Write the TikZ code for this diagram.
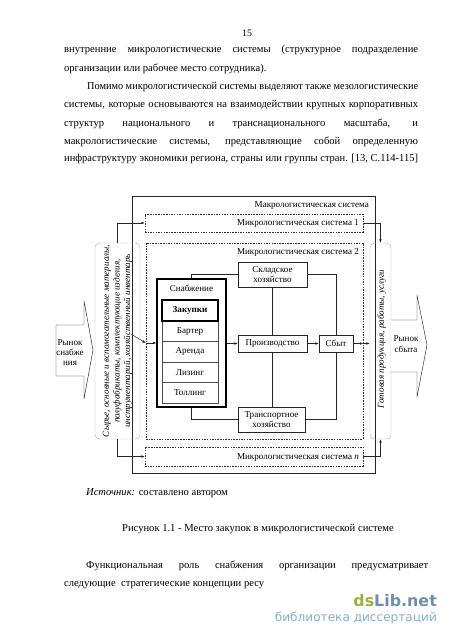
\documentclass[tikz,border=0pt]{standalone}
\usepackage{fontspec}
\usepackage{graphicx}
\setmainfont{Liberation Serif}
\newfontfamily\wmfont{DejaVu Sans}
\usetikzlibrary{arrows.meta,fit}
\definecolor{wmgreen}{HTML}{9DAF3C}
\definecolor{wmblue}{HTML}{6F8FAF}
\definecolor{wmlight}{HTML}{86AED3}
\newcommand\jline[2]{\makebox[#1][s]{\spaceskip=3pt plus 1fil\relax #2}}
\newcommand\fline[2]{\resizebox{#1}{\height}{#2}}
\begin{document}
\begin{tikzpicture}[x=1.3222pt,y=-1.3222pt,
  body/.style={font=\fontsize{14}{16}\selectfont, inner sep=0pt, anchor=base west},
  dg/.style={font=\fontsize{12}{13.8}\selectfont, inner sep=0pt},
  bt/.style={font=\fontsize{12}{12.5}\selectfont, inner sep=0pt, align=center},
  ln/.style={line width=0.6pt, draw=black!85},
  dbox/.style={draw=black!80, line width=0.6pt, dash pattern=on 2pt off 1.5pt, inner sep=0pt},
  bx/.style={draw=black!85, line width=0.7pt, inner sep=0pt},
  item/.style={draw=black!70, line width=0.6pt, inner sep=0pt},
  side/.style={draw=black!30, line width=0.6pt, rounded corners=6pt},
  arr/.style={ln, -{Latex[length=4.5pt,width=3.4pt]}},
  market/.style={draw=black!85, line width=0.6pt, fill=white}
]
\useasboundingbox (0,0) rectangle (450,637);
\fill[white] (0,0) rectangle (450,637);

% page text
\node[font=\fontsize{13}{14}\selectfont, inner sep=0pt] (pg) at (247,33) {15};
\node[body] (t1) at (64,52) {\jline{468pt}{внутренние микрологистические системы (структурное подразделение}};
\node[body] (t2) at (64,71) {организации или рабочее место сотрудника).};
\node[body] (t3) at (87,89) {\fline{437.6pt}{Помимо микрологистической системы выделяют также мезологистические}};
\node[body] (t4) at (64,107.5) {\jline{468pt}{системы, которые основываются на взаимодействии крупных корпоративных}};
\node[body] (t5) at (64,126) {\jline{468pt}{структур национального и транснационального масштаба, и}};
\node[body] (t6) at (64,144) {\jline{468pt}{макрологистические системы, представляющие собой определенную}};
\node[body] (t7) at (64,161) {\fline{468pt}{инфраструктуру экономики региона, страны или группы стран. [13, С.114-115]}};

% macro system
\node[draw=black!85, line width=0.8pt, inner sep=0pt, fit={(132,196)(375,473)}] (mac) {};
\node[dg, anchor=east] (macl) at (369,205) {Макрологистическая система};

\node[dbox, fit={(145,214)(363,232)}] (m1) {};
\node[dg, anchor=east] (m1l) at (359,223) {Микрологистическая система 1};
\node[dbox, fit={(146,243)(363,439)}] (m2) {};
\node[dg, anchor=east] (m2l) at (359,252) {Микрологистическая система 2};
\node[dbox, fit={(145,447)(363,466)}] (mn) {};
\node[dg, anchor=east] (mnl) at (359,457) {Микрологистическая система \textit{n}};

% side boxes
\node[side, inner sep=0pt, fit={(95,243)(140,439)}] (lb) {};
\node[dg, rotate=90, align=center, font=\fontsize{12}{14}\itshape] (lbt) at (117.5,341)
  {Сырье, основные и вспомогательные материалы,\\полуфабрикаты, комплектующие изделия,\\инструментарий, хозяйственный инвентарь};
\node[side, inner sep=0pt, fit={(370,243)(391,439)}] (rb) {};
\node[dg, rotate=90, font=\fontsize{12}{14}\itshape] (rbt) at (381.5,339) {Готовая продукция, работы, услуги};

% markets
\draw[market] (84,325) -- (56,325) -- (56,376) -- (84,376) -- (84,399) -- (93,350) -- (84,301) -- cycle;
\node[dg, align=center, font=\fontsize{12}{13.8}\selectfont] (rs) at (70,352.5) {Рынок\\снабже\\ния};
\draw[market] (391,320) -- (417,320) -- (417,295) -- (427,345) -- (417,397) -- (417,372) -- (391,372);
\node[dg, align=center, font=\fontsize{12}{13.8}\selectfont] (rsb) at (406,344) {Рынок\\сбыта};

% supply block
\node[draw=black, line width=1.6pt, inner sep=0pt, fit={(157,279)(226,407)}] (sn) {};
\node[dg] (snl) at (191.5,288) {Снабжение};
\node[item, fit={(162,321)(218,341.5)}] (bar) {};
\node[bt] at (bar.center) {Бартер};
\node[item, fit={(162,341.5)(218,362)}] (ar) {};
\node[bt] at (ar.center) {Аренда};
\node[item, fit={(162,362)(218,382.5)}] (liz) {};
\node[bt] at (liz.center) {Лизинг};
\node[item, fit={(162,382.5)(218,403)}] (tol) {};
\node[bt] at (tol.center) {Толлинг};
\node[draw=black, line width=1.4pt, inner sep=0pt, fit={(162,300)(218,321)}] (zak) {};
\node[bt, font=\fontsize{12}{12}\bfseries] at (zak.center) {Закупки};

% other blocks
\node[bx, fit={(238,262)(307,287)}] (skl) {};
\node[bt] at (skl.center) {Складское\\хозяйство};
\node[bx, fit={(238,335)(307,352)}] (pr) {};
\node[bt] at (pr.center) {Производство};
\node[bx, fit={(319,335)(353,352)}] (sb) {};
\node[bt] at (sb.center) {Сбыт};
\node[bx, fit={(238,407)(305,432)}] (tr) {};
\node[bt] at (tr.center) {Транспортное\\хозяйство};

% connectors
\draw[ln] (sn.north -| 191.5,0) |- (skl.west);
\draw[ln] (skl.east) -| (sb.north -| 336,0);
\draw[ln] (skl.south -| 272,0) -- (pr.north -| 272,0);
\draw[ln] (pr.south -| 272,0) -- (tr.north -| 272,0);
\draw[ln] (tr.west) -| (sn.south -| 191.5,0);
\draw[ln] (tr.east) -| (sb.south -| 336,0);
\draw[arr] (sn.east |- pr.west) -- (pr.west);
\draw[arr] (pr.east) -- (sb.west);

\draw[arr] (lb.north) |- (m1.west);
\draw[arr] (lb.south) |- (mn.west);
\draw[arr] (m1.east) -| (rb.north);
\draw[arr] (mn.east) -| (rb.south);
\coordinate (la) at (131,334);
\draw[arr] (la) -- (m2.west |- sn.west);
\draw[arr] (m2.west |- sn.west) -- (sn.west);
\draw[arr] (sb.east) -- (m2.east |- sb.east);
\draw[arr] (m2.east |- sb.east) -- (rb.west |- sb.east);

% caption and following text
\node[body] (src) at (86,495.5) {\textit{Источник:} составлено автором};
\node[body] (cap) at (122,531.5) {Рисунок 1.1 - Место закупок в микрологистической системе};
\node[body] (b1) at (86,568.5) {\jline{452.2pt}{Функциональная роль снабжения организации предусматривает}};
\node[body] (b2) at (64,586.5) {следующие\ \ стратегические концепции ресу};

% watermark
\node[inner sep=0pt, anchor=base east, font=\wmfont\bfseries\fontsize{21}{22}\selectfont] (wm1) at (437,606)
  {\textcolor{wmgreen}{ds}\textcolor{wmblue}{Lib.net}};
\node[inner sep=0pt, anchor=base east, font=\wmfont\fontsize{16}{18}\selectfont, text=wmlight] (wm2) at (437,621)
  {библиотека диссертаций};
\end{tikzpicture}
\end{document}
